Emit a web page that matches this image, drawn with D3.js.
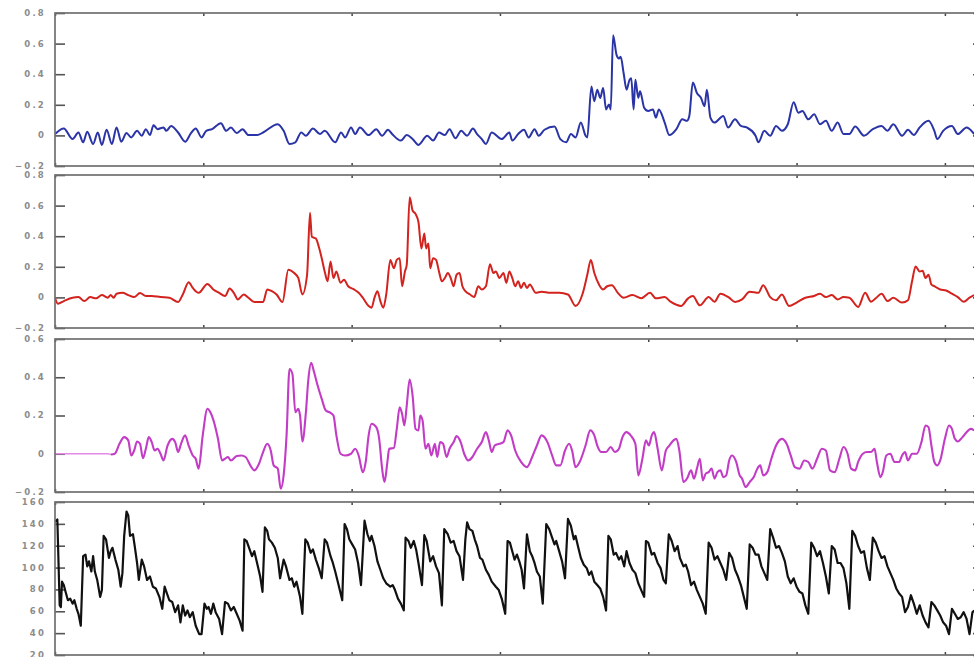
<!DOCTYPE html>
<html><head><meta charset="utf-8">
<script src="https://cdn.jsdelivr.net/npm/d3@7"></script>
<style>body{margin:0;background:#fff;overflow:hidden}</style>
</head><body>
<svg id="c" width="974" height="657"></svg>
<script>
// ---- data (time index in samples) ----
const blueT=[0,15,30,40,48,55,65,73,80,88,97,105,113,122,130,140,148,155,162,168,175,185,190,198,210,222,232,240,250,258,268,283,292,300,310,320,330,345,355,380,390,400,410,420,428,440,452,460,478,488,495,505,512,520,535,548,558,568,575,590,600,610,620,635,645,655,665,673,683,693,703,713,720,728,735,745,762,775,780,790,800,808,818,825,835,852,862,872,880,888,897,905,908,915,920,925,930,935,940,945,948,952,958,962,965,970,975,980,983,987,990,995,998,1005,1012,1020,1025,1030,1040,1048,1060,1070,1078,1082,1088,1095,1102,1108,1112,1118,1125,1140,1148,1160,1170,1180,1195,1200,1210,1220,1230,1240,1250,1260,1268,1275,1285,1295,1305,1315,1325,1335,1345,1355,1365,1380,1395,1410,1420,1430,1445,1455,1465,1475,1490,1500,1505,1515,1530,1540,1555,1568];
const blueV=[0.009,0.045,-0.024,0.019,-0.045,0.024,-0.056,0.019,-0.062,0.037,-0.056,0.052,-0.041,0.015,-0.013,0.030,-0.002,0.041,0.002,0.067,0.041,0.052,0.030,0.062,0.019,-0.041,0.015,0.045,-0.013,0.030,0.041,0.080,0.030,0.052,0.015,0.041,0.002,0.002,0.019,0.073,0.030,-0.056,-0.045,0.019,-0.002,0.045,0.009,0.030,-0.045,0.019,-0.013,0.052,0.009,0.052,0.002,0.041,-0.002,0.037,0.009,-0.034,0.002,-0.024,-0.062,-0.002,-0.034,0.019,0.002,0.041,-0.019,0.030,-0.002,0.045,0.009,-0.024,-0.056,0.019,-0.024,0.019,-0.034,0.009,0.037,-0.013,0.041,-0.002,0.037,0.058,-0.024,-0.045,0.009,-0.013,0.084,-0.002,-0.013,0.320,0.224,0.299,0.245,0.310,0.170,0.202,0.170,0.654,0.525,0.503,0.514,0.406,0.299,0.363,0.374,0.170,0.363,0.245,0.288,0.181,0.159,0.170,0.116,0.170,0.084,0.002,0.041,0.105,0.095,0.127,0.346,0.277,0.245,0.191,0.299,0.116,0.084,0.127,0.052,0.105,0.062,0.052,-0.002,-0.045,0.030,-0.002,0.062,0.030,0.073,0.217,0.148,0.159,0.105,0.138,0.073,0.095,0.030,0.084,0.009,0.009,0.058,-0.002,0.041,0.062,0.030,0.073,-0.002,0.037,0.002,0.052,0.095,0.030,-0.024,0.030,0.062,0.009,0.052,0.009];

const redT=[0,5,15,30,40,50,60,70,80,90,95,100,105,115,125,135,145,155,165,180,195,210,218,228,235,245,260,270,280,290,298,305,312,322,330,340,355,362,370,378,388,398,408,415,422,430,435,438,445,450,455,460,465,470,475,480,487,493,500,510,518,525,535,540,545,550,555,560,565,572,578,583,588,592,597,600,605,610,615,620,625,630,633,637,640,645,650,655,660,665,670,675,680,685,690,695,700,708,715,722,728,735,742,748,752,758,765,770,775,780,785,790,795,800,805,810,820,830,845,860,875,888,900,908,914,920,928,935,942,950,960,970,985,1000,1015,1025,1040,1050,1068,1080,1088,1100,1115,1125,1135,1150,1160,1172,1185,1200,1208,1220,1230,1240,1252,1265,1280,1295,1305,1315,1325,1335,1345,1355,1370,1382,1392,1400,1410,1420,1430,1445,1455,1462,1468,1475,1480,1485,1490,1495,1500,1510,1520,1530,1540,1550,1560,1568];
const redV=[-0.002,-0.041,-0.024,-0.002,0.002,-0.024,0.002,-0.006,0.015,-0.002,0.015,-0.002,0.024,0.030,0.015,0.002,0.028,0.009,0.009,0.002,-0.002,-0.030,0.019,0.099,0.062,0.030,0.088,0.052,0.030,0.009,0.058,0.030,-0.013,0.019,-0.002,-0.030,-0.030,0.052,0.041,0.019,-0.030,0.181,0.159,0.127,0.019,0.148,0.553,0.396,0.385,0.331,0.256,0.170,0.105,0.234,0.127,0.170,0.095,0.116,0.073,0.052,0.030,-0.002,-0.056,-0.067,-0.002,0.041,-0.024,-0.067,0.019,0.245,0.191,0.245,0.256,0.073,0.170,0.213,0.654,0.568,0.546,0.492,0.320,0.417,0.320,0.353,0.191,0.256,0.245,0.170,0.105,0.127,0.159,0.127,0.073,0.148,0.159,0.073,0.041,0.019,0.002,0.073,0.052,0.073,0.217,0.159,0.170,0.127,0.159,0.095,0.170,0.127,0.073,0.105,0.062,0.095,0.062,0.084,0.030,0.037,0.030,0.030,0.019,-0.056,0.024,0.148,0.245,0.159,0.084,0.052,0.073,0.080,0.030,-0.002,0.015,-0.006,0.030,-0.006,0.002,-0.028,-0.056,-0.006,0.009,-0.052,0.002,-0.028,0.024,-0.002,-0.030,-0.013,0.037,0.030,0.080,0.002,-0.019,0.019,-0.056,-0.034,-0.002,0.009,0.024,0.002,0.015,-0.013,0.002,-0.002,-0.062,0.030,-0.028,-0.006,0.024,-0.024,-0.002,-0.034,-0.019,0.105,0.202,0.170,0.174,0.127,0.148,0.084,0.073,0.052,0.045,0.024,0.002,-0.028,-0.002,0.015];

const magT=[0,90,95,102,110,118,125,130,135,140,145,150,155,160,165,170,175,180,185,192,200,205,210,215,222,228,235,240,245,252,260,265,272,278,285,290,295,300,310,318,325,335,340,348,355,362,368,373,380,385,390,395,400,405,410,415,418,422,428,432,437,442,448,455,462,470,475,480,487,495,505,512,518,525,530,535,540,548,553,558,562,567,570,578,583,588,592,596,600,605,610,615,620,623,627,632,637,642,648,652,657,662,668,673,680,685,692,698,705,712,720,728,735,740,745,750,758,765,772,778,785,795,805,815,822,830,840,848,855,862,870,877,882,888,895,905,913,920,925,932,940,948,955,962,968,975,982,990,995,1002,1008,1013,1018,1022,1028,1035,1042,1048,1055,1060,1065,1072,1078,1085,1090,1095,1100,1105,1110,1115,1120,1125,1130,1135,1140,1145,1150,1155,1162,1168,1172,1178,1185,1192,1198,1203,1208,1215,1222,1230,1240,1248,1255,1262,1270,1278,1285,1292,1300,1308,1315,1322,1330,1338,1345,1352,1358,1365,1370,1378,1385,1392,1398,1402,1408,1412,1418,1425,1432,1440,1445,1450,1455,1462,1470,1478,1485,1490,1495,1500,1505,1510,1518,1525,1530,1535,1540,1548,1555,1562,1568];
const magV=[0,0,-0.004,0,0.052,0.087,0.070,-0.009,0.017,0.064,0.052,-0.023,0.026,0.087,0.061,0.017,0.026,0,-0.035,0.043,0.078,0.061,0.009,0.052,0.096,0.043,-0.009,-0.026,-0.078,0.096,0.235,0.217,0.157,0.078,-0.035,-0.026,-0.017,-0.035,-0.012,-0.009,-0.017,-0.070,-0.087,-0.052,0.009,0.052,0.017,-0.061,-0.078,-0.183,-0.113,0.096,0.443,0.417,0.217,0.235,0.200,0.064,0.217,0.383,0.475,0.426,0.357,0.287,0.226,0.214,0.200,0.096,0,-0.009,0,0.026,-0.009,-0.096,-0.043,0.096,0.157,0.139,0.078,-0.078,-0.148,-0.043,0.026,0.030,0.130,0.243,0.209,0.148,0.252,0.388,0.304,0.130,0.122,0.200,0.174,0.026,0.052,-0.009,0.052,-0.017,0.061,0.052,-0.017,0.026,0.061,0.092,0.061,0,-0.035,-0.017,0.026,0.061,0.113,0.070,0.009,0.043,0.052,0.061,0.122,0.096,0.017,-0.043,-0.070,-0.009,0.043,0.096,0.061,-0.009,-0.061,-0.061,0.017,0.052,0.017,-0.070,-0.043,0.043,0.122,0.096,0.043,0.009,0.009,0.035,0.009,0.026,0.087,0.113,0.096,0.052,-0.113,-0.026,0.070,0.043,0.096,0.113,0.026,-0.087,0.017,0.043,0.070,0.078,0.017,-0.148,-0.130,-0.087,-0.130,-0.078,-0.026,-0.139,-0.104,-0.096,-0.078,-0.130,-0.096,-0.087,-0.122,-0.113,-0.035,-0.009,-0.043,-0.113,-0.130,-0.174,-0.148,-0.122,-0.078,-0.061,-0.113,-0.096,-0.026,0.043,0.078,0.052,-0.009,-0.070,-0.078,-0.035,-0.043,-0.078,-0.026,0.026,0.017,-0.087,-0.096,-0.026,0.035,0,-0.078,-0.087,-0.043,0,0.009,0.009,0.026,-0.043,-0.122,-0.096,-0.009,0,-0.043,-0.043,-0.009,0.009,-0.035,0,0,0.061,0.148,0.139,0.043,-0.043,-0.061,-0.035,0.078,0.148,0.130,0.078,0.064,0.087,0.113,0.130,0.122];

const blackT=[0,4,8,10,12,15,18,22,26,30,33,37,40,44,48,52,55,58,62,65,68,72,77,80,83,87,92,95,98,103,108,112,115,118,122,125,128,133,136,140,143,148,152,157,162,167,172,178,183,187,190,195,200,205,210,214,218,222,226,230,235,240,246,250,255,259,262,266,270,274,280,285,290,295,300,305,310,315,320,323,327,332,336,340,344,350,354,358,362,365,370,375,380,384,390,394,400,404,408,412,418,422,427,431,436,440,445,450,455,460,464,470,474,478,483,490,494,498,502,507,512,517,522,528,533,537,540,545,550,555,560,565,572,576,580,585,590,595,598,603,607,612,616,620,626,630,634,640,645,650,655,660,664,670,675,680,685,690,696,700,703,707,712,716,720,725,729,735,740,745,752,757,762,768,772,776,780,784,788,792,796,800,805,810,814,818,822,827,832,838,843,848,852,855,860,865,870,875,880,885,888,892,897,902,907,911,915,920,925,930,935,940,944,948,953,957,962,966,971,975,980,985,990,995,1000,1005,1008,1012,1018,1022,1028,1033,1038,1042,1047,1052,1057,1062,1066,1072,1076,1080,1085,1090,1095,1100,1105,1110,1115,1120,1125,1130,1135,1140,1145,1150,1155,1160,1165,1170,1175,1180,1185,1190,1195,1200,1205,1210,1215,1220,1225,1230,1235,1240,1245,1250,1255,1260,1265,1270,1275,1280,1285,1290,1295,1300,1305,1310,1315,1320,1325,1330,1335,1340,1345,1350,1355,1360,1365,1370,1375,1380,1385,1390,1395,1400,1405,1410,1415,1420,1425,1430,1435,1440,1445,1450,1455,1460,1465,1470,1475,1480,1485,1490,1495,1500,1505,1510,1515,1520,1525,1530,1535,1540,1545,1550,1555,1560,1565,1568];
const blackV=[142,144,65.4,63.9,87.1,84.0,77.8,70.1,71.6,67.0,70.1,62.3,57.7,46.8,110.4,111.9,101.1,105.7,96.4,110.4,96.4,88.7,73.2,79.4,129.0,125.9,108.8,115.0,118.1,107.3,98.0,82.5,94.9,129.0,151.3,147.6,129.0,130.5,119.7,104.2,88.7,107.3,101.1,88.7,91.8,82.5,80.9,73.2,62.3,82.5,77.8,70.1,68.5,59.2,65.4,49.9,65.4,56.1,60.8,54.6,59.2,46.8,39.1,39.1,67.0,62.3,63.9,57.7,67.0,59.2,53.0,39.1,68.5,67.0,60.8,63.9,57.7,51.5,42.2,125.9,124.3,116.6,110.4,115.0,105.7,91.8,77.8,136.7,133.6,125.9,122.8,118.1,108.8,90.2,107.3,101.1,88.7,90.2,82.5,87.1,73.2,57.7,125.9,122.8,113.5,116.6,107.3,99.5,90.2,125.9,122.8,110.4,104.2,96.4,85.6,70.1,139.8,135.2,125.9,121.2,116.6,104.2,84.0,142.9,130.5,124.3,129.0,119.7,105.7,98.0,90.2,85.6,82.5,84.0,79.4,71.6,67.0,60.8,127.4,124.3,118.1,124.3,116.6,104.2,84.0,129.6,124.3,105.7,110.4,101.1,94.9,65.4,135.2,130.5,122.8,124.3,115.0,110.4,88.7,125.9,141.4,135.2,133.6,125.9,119.7,108.8,107.3,98.0,93.3,87.1,82.5,79.4,71.6,57.7,124.3,122.8,115.0,107.3,111.9,105.7,98.0,80.9,130.5,115.0,110.4,104.2,96.4,91.8,67.0,139.8,135.2,127.4,121.2,124.3,115.0,105.7,90.2,144.5,138.3,125.9,129.0,119.7,108.8,102.6,99.5,93.3,96.4,87.1,84.0,80.9,73.2,60.8,129.0,125.9,111.9,113.5,107.3,110.4,101.1,115.0,104.2,98.0,94.9,85.6,79.4,73.2,124.3,122.8,111.9,113.5,104.2,99.5,88.7,85.6,130.5,124.3,115.0,119.7,108.8,101.1,102.6,96.4,84.0,87.1,79.4,73.2,67.0,57.7,122.8,118.1,107.3,110.4,104.2,98.0,88.7,113.5,108.8,98.0,91.8,84.0,73.2,62.3,121.2,118.1,111.9,111.9,101.1,94.9,88.7,135.2,127.4,118.1,119.7,113.5,105.7,91.8,85.6,90.2,82.5,77.8,76.3,65.4,57.7,122.8,118.1,110.4,115.0,104.2,91.8,76.3,119.7,116.6,104.2,104.2,99.5,85.6,62.3,133.6,129.0,119.7,113.5,115.0,99.5,88.7,127.4,122.8,115.0,108.8,110.4,101.1,94.9,88.7,80.9,76.3,73.2,59.2,63.9,74.7,67.0,57.7,65.4,56.1,49.9,45.3,68.5,65.4,60.8,56.1,49.9,46.8,39.1,62.3,57.7,53.0,54.6,59.2,53.0,39.1,59.2,60.8];

const ticks01=[-0.2,0,0.2,0.4,0.6,0.8];
const ticks3=[-0.2,0,0.2,0.4,0.6];
const ticks4=[20,40,60,80,100,120,140,160];
const xTicks=[0,253,506,759,1012,1265,1518];

// ---- layout ----
const svg=d3.select("#c");
const left=55, right=983;
const x=d3.scaleLinear().domain([0,1583]).range([left,right]);
const panels=[
 {top:13,bottom:166,dom:[-0.2,0.8],ticks:ticks01,t:blueT,v:blueV,color:"#2a34a6",curve:d3.curveMonotoneX},
 {top:175,bottom:328,dom:[-0.2,0.8],ticks:ticks01,t:redT,v:redV,color:"#d2231e",curve:d3.curveMonotoneX},
 {top:339,bottom:492,dom:[-0.2,0.6],ticks:ticks3,t:magT,v:magV,color:"#c23cc6",curve:d3.curveMonotoneX,thinUntil:95},
 {top:502,bottom:655,dom:[20,160],ticks:ticks4,t:blackT,v:blackV,color:"#111111",curve:d3.curveLinear}
];
const fmt=d=>d===0?"0":(Number.isInteger(d)?String(d):d3.format(".1f")(d));

panels.forEach((p,i)=>{
  const y=d3.scaleLinear().domain(p.dom).range([p.bottom,p.top]);
  const g=svg.append("g");
  const cid="clip"+i;
  svg.append("clipPath").attr("id",cid).append("rect")
     .attr("x",left).attr("y",p.top).attr("width",right-left).attr("height",p.bottom-p.top);
  // left ticks inward
  const ay=d3.axisRight(y).tickValues(p.ticks).tickSize(10).tickFormat("");
  const ga=g.append("g").attr("transform",`translate(${left},0)`).call(ay);
  ga.select(".domain").remove();
  ga.selectAll("line").attr("stroke","#555").attr("stroke-width",1.6);
  const ar=d3.axisLeft(y).tickValues(p.ticks).tickSize(10).tickFormat("");
  const gr=g.append("g").attr("transform",`translate(${right},0)`).call(ar);
  gr.select(".domain").remove();
  gr.selectAll("line").attr("stroke","#555").attr("stroke-width",1.6);
  // labels
  g.selectAll("text.lab").data(p.ticks).join("text")
   .attr("x",46).attr("y",d=>y(d)).attr("dy","0.35em")
   .attr("text-anchor","end").attr("font-family","DejaVu Sans")
   .attr("font-size",8.5).attr("font-weight","bold").attr("letter-spacing",2.2)
   .attr("fill","#8c8c8c").text(fmt);
  // top/bottom x ticks
  const xt=d3.axisBottom(x).tickValues(xTicks).tickSize(3).tickFormat("");
  const gt=g.append("g").attr("transform",`translate(0,${p.top})`).call(xt);
  gt.select(".domain").remove(); gt.selectAll("line").attr("stroke","#444").attr("stroke-width",1.5);
  const xb=d3.axisTop(x).tickValues(xTicks).tickSize(3).tickFormat("");
  const gb=g.append("g").attr("transform",`translate(0,${p.bottom})`).call(xb);
  gb.select(".domain").remove(); gb.selectAll("line").attr("stroke","#444").attr("stroke-width",1.5);
  // line
  const pts=p.t.map((t,k)=>[t,p.v[k]]);
  const line=d3.line().x(d=>x(d[0])).y(d=>y(d[1])).curve(p.curve);
  const lg=g.append("g").attr("clip-path",`url(#${cid})`);
  if(p.thinUntil!==undefined){
    const a=pts.filter(d=>d[0]<=p.thinUntil);
    const b=pts.filter(d=>d[0]>=p.thinUntil);
    lg.append("path").attr("d",line(a)).attr("fill","none").attr("stroke","#e48ae6").attr("stroke-width",1.3);
    lg.append("path").attr("d",line(b)).attr("fill","none").attr("stroke",p.color).attr("stroke-width",2.1).attr("stroke-linejoin","round");
  } else {
    lg.append("path").attr("d",line(pts)).attr("fill","none").attr("stroke",p.color)
      .attr("stroke-width",p.color==="#111111"?2.2:2.0).attr("stroke-linejoin","round");
  }
  // frame
  g.append("rect").attr("x",left).attr("y",p.top).attr("width",right-left).attr("height",p.bottom-p.top)
   .attr("fill","none").attr("stroke","#707070").attr("stroke-width",1.7);
});
</script>
</body></html>
